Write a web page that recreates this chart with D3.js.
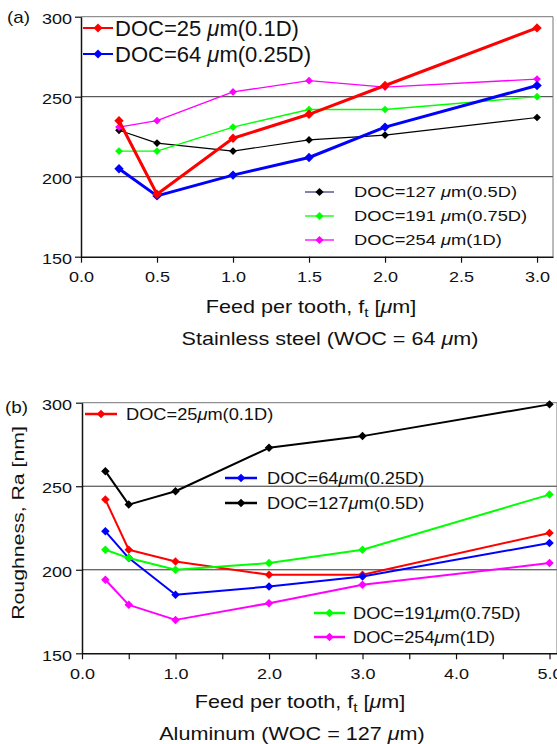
<!DOCTYPE html>
<html>
<head>
<meta charset="utf-8">
<script src="https://cdn.jsdelivr.net/npm/d3@7"></script>
<style>
body{margin:0;background:#fff}
svg{display:block;font-family:"Liberation Sans",Arial,sans-serif}
</style>
</head>
<body>
<div id="chart"></div>
<script>
// (a) stainless steel
const feedSS = [0.25, 0.5, 1.0, 1.5, 2.0, 3.0];
const ssDoc25 = [235, 189, 224, 239, 257, 293];
const ssDoc64 = [205, 188, 201, 212, 231, 257];
const ssDoc127 = [229, 221, 216, 223, 226, 237];
const ssDoc191 = [216, 216, 231, 242, 242, 250];
const ssDoc254 = [231, 235, 253, 260, 256, 261];

// (b) aluminum
const feedAl = [0.25, 0.5, 1.0, 2.0, 3.0, 5.0];
const alDoc25 = [242, 212, 205, 197, 197, 222];
const alDoc64 = [223, 207, 185, 190, 196, 216];
const alDoc127 = [259, 239, 247, 273, 280, 299];
const alDoc191 = [212, 207, 200, 204, 212, 245];
const alDoc254 = [194, 179, 170, 180, 191, 204];

const yTicks = [150, 200, 250, 300];
const gridTicks = [200, 250];
const xTicksSS = [0, 0.5, 1.0, 1.5, 2.0, 2.5, 3.0];
const xTicksAl = [0, 0.5, 1.0, 1.5, 2.0, 2.5, 3.0, 3.5, 4.0, 4.5, 5.0];
const docNames = ["127", "191", "254", "64", "25"];
const docRatio = ["0.5D", "0.75D", "1D", "0.25D", "0.1D"];
const colors = ["#000000", "#00ff00", "#ff00ff", "#0000ff", "#ff0000"];

const W = 557, H = 744;
const fmt = d3.format(".1f");

const svg = d3.select("#chart").append("svg")
	.attr("width", W)
	.attr("height", H);

// text with optional italic mu / subscript parts, stretched horizontally
function label(g, x, y, parts, size, k, anchor, rot){
	const t = g.append("text")
		.attr("transform", `translate(${x},${y})` + (rot ? ` rotate(${rot})` : "") + ` scale(${k},1)`)
		.attr("font-size", size)
		.attr("text-anchor", anchor || "start")
		.attr("fill", "#111");
	parts.forEach(p => {
		const s = t.append("tspan").text(p.t);
		if(p.i) s.attr("font-style", "italic");
		if(p.sub) s.attr("font-size", size * 0.72).attr("dy", 4);
		if(p.up) s.attr("dy", -4);
	});
	return t;
}

function panel(o){
	const x = d3.scaleLinear().domain(o.xDomain).range(o.xRange);
	const y = d3.scaleLinear().domain([150, 300]).range(o.yRange);
	const g = svg.append("g");

	g.selectAll(".grid")
		.data(gridTicks)
		.join("line")
		.attr("x1", o.xRange[0]).attr("x2", o.xRange[1])
		.attr("y1", d => y(d)).attr("y2", d => y(d))
		.attr("stroke", "#333").attr("stroke-width", 1);
	g.append("line")
		.attr("x1", o.xRange[0]).attr("x2", o.xRange[1])
		.attr("y1", y(300)).attr("y2", y(300))
		.attr("stroke", "#777").attr("stroke-width", 1);
	g.append("line")
		.attr("x1", o.xRange[1]).attr("x2", o.xRange[1])
		.attr("y1", y(300)).attr("y2", y(150))
		.attr("stroke", "#777").attr("stroke-width", 1);

	const axisX = d3.axisBottom(x)
		.tickValues(o.xTicks)
		.tickSize(6).tickSizeOuter(0).tickPadding(9)
		.tickFormat(o.xFormat);
	const axisY = d3.axisLeft(y)
		.tickValues(yTicks)
		.tickSize(6).tickSizeOuter(0).tickPadding(3);

	const gx = g.append("g")
		.attr("transform", `translate(0,${y(150)})`)
		.call(axisX);
	const gy = g.append("g")
		.attr("transform", `translate(${o.xRange[0]},0)`)
		.call(axisY);
	[gx, gy].forEach(a => {
		a.attr("font-family", null).attr("font-size", 15);
		a.select(".domain").attr("stroke", "#111").attr("stroke-width", 1.5);
		a.selectAll(".tick line").attr("stroke", "#111").attr("stroke-width", 1.2);
		a.selectAll("text").attr("fill", "#111");
	});
	gx.selectAll("text").attr("transform", "scale(1.2,1)");
	gy.selectAll("text").attr("transform", "scale(1.2,1)")
		.attr("x", -o.yLabelGap / 1.2).attr("dy", "0.45em");

	const lineGen = d3.line()
		.x((d, i) => x(o.feed[i]))
		.y(d => y(d));

	const s = g.selectAll(".series")
		.data(o.series)
		.join("g")
		.attr("class", "series");
	s.append("path")
		.attr("d", d => lineGen(d.v))
		.attr("fill", "none")
		.attr("stroke", d => d.c)
		.attr("stroke-width", d => d.w)
		.attr("stroke-linejoin", "round");
	s.selectAll("path.pt")
		.data(d => d.v.map((v, i) => ({v: v, i: i, c: d.c, m: d.m})))
		.join("path")
		.attr("class", "pt")
		.attr("d", d => d3.symbol(d3.symbolSquare, d.m)())
		.attr("transform", d => `translate(${x(o.feed[d.i])},${y(d.v)}) rotate(45)`)
		.attr("fill", d => d.c);

	return {g: g, x: x, y: y};
}

function legend(g, items, x0, x1, textX, size, k, lw, m){
	const e = g.selectAll(null)
		.data(items)
		.join("g")
		.attr("transform", d => `translate(0,${d.y})`);
	e.append("line")
		.attr("x1", x0).attr("x2", x1)
		.attr("stroke", d => d.lc || d.c)
		.attr("stroke-width", lw);
	e.append("path")
		.attr("d", d3.symbol(d3.symbolSquare, m)())
		.attr("transform", `translate(${(x0 + x1) / 2},0) rotate(45)`)
		.attr("fill", d => d.c);
	e.each(function(d){
		label(d3.select(this), textX, size * 0.36,
			[{t: "DOC=" + d.name + d.gap}, {t: "μ", i: true}, {t: "m(" + d.ratio + ")"}],
			size, k, "start");
	});
}

// ---------- (a) ----------
const a = panel({
	xDomain: [0, 3.105], xRange: [81, 553], yRange: [256.7, 16.7],
	xTicks: xTicksSS, xFormat: fmt, feed: feedSS, yLabelGap: 9,
	series: [
		{v: ssDoc127, c: colors[0], w: 1.2, m: 30},
		{v: ssDoc191, c: colors[1], w: 1.3, m: 30},
		{v: ssDoc254, c: colors[2], w: 1.3, m: 30},
		{v: ssDoc64, c: colors[3], w: 3, m: 44},
		{v: ssDoc25, c: colors[4], w: 3, m: 44}
	]
});
label(a.g, 7, 23, [{t: "(a)"}], 16, 1.18, "start");
legend(a.g, [
	{name: docNames[4], ratio: docRatio[4], c: colors[4], y: 28, gap: " "},
	{name: docNames[3], ratio: docRatio[3], c: colors[3], y: 54, gap: " "}
], 83, 113, 115, 22, 1, 2, 40);
legend(a.g, [
	{name: docNames[0], ratio: docRatio[0], c: colors[0], lc: "#404080", y: 192, gap: " "},
	{name: docNames[1], ratio: docRatio[1], c: colors[1], y: 216, gap: " "},
	{name: docNames[2], ratio: docRatio[2], c: colors[2], y: 240, gap: " "}
], 305, 334, 354, 15, 1.22, 1.3, 34);
label(a.g, 311, 313, [{t: "Feed per tooth, f"}, {t: "t", sub: true}, {t: " [", up: true}, {t: "μ", i: true}, {t: "m]"}], 18, 1.2, "middle");
label(a.g, 330, 345, [{t: "Stainless steel (WOC = 64 "}, {t: "μ", i: true}, {t: "m)"}], 18, 1.2, "middle");

// ---------- (b) ----------
const b = panel({
	xDomain: [0, 5.08], xRange: [82, 557], yRange: [653.3, 402.7],
	xTicks: xTicksAl, xFormat: d => Number.isInteger(d) ? fmt(d) : "", feed: feedAl, yLabelGap: 10,
	series: [
		{v: alDoc25, c: colors[4], w: 2, m: 36},
		{v: alDoc64, c: colors[3], w: 2, m: 36},
		{v: alDoc127, c: colors[0], w: 2, m: 36},
		{v: alDoc191, c: colors[1], w: 2, m: 36},
		{v: alDoc254, c: colors[2], w: 2, m: 36}
	]
});
label(b.g, 5, 413, [{t: "(b)"}], 16, 1.18, "start");
legend(b.g, [
	{name: docNames[4], ratio: docRatio[4], c: colors[4], y: 414, gap: ""}
], 85, 117, 126, 16, 1.14, 2.5, 36);
legend(b.g, [
	{name: docNames[3], ratio: docRatio[3], c: colors[3], y: 478, gap: ""},
	{name: docNames[0], ratio: docRatio[0], c: colors[0], y: 503, gap: ""}
], 225, 257, 267, 16, 1.14, 2.5, 36);
legend(b.g, [
	{name: docNames[1], ratio: docRatio[1], c: colors[1], y: 613, gap: ""},
	{name: docNames[2], ratio: docRatio[2], c: colors[2], y: 637, gap: ""}
], 314, 345, 353, 16, 1.14, 2.5, 36);
label(b.g, 24, 523, [{t: "Roughness, Ra [nm]"}], 17, 1.25, "middle", -90);
label(b.g, 300, 708, [{t: "Feed per tooth, f"}, {t: "t", sub: true}, {t: " [", up: true}, {t: "μ", i: true}, {t: "m]"}], 18, 1.2, "middle");
label(b.g, 292, 740, [{t: "Aluminum (WOC = 127 "}, {t: "μ", i: true}, {t: "m)"}], 18, 1.2, "middle");
</script>
</body>
</html>
